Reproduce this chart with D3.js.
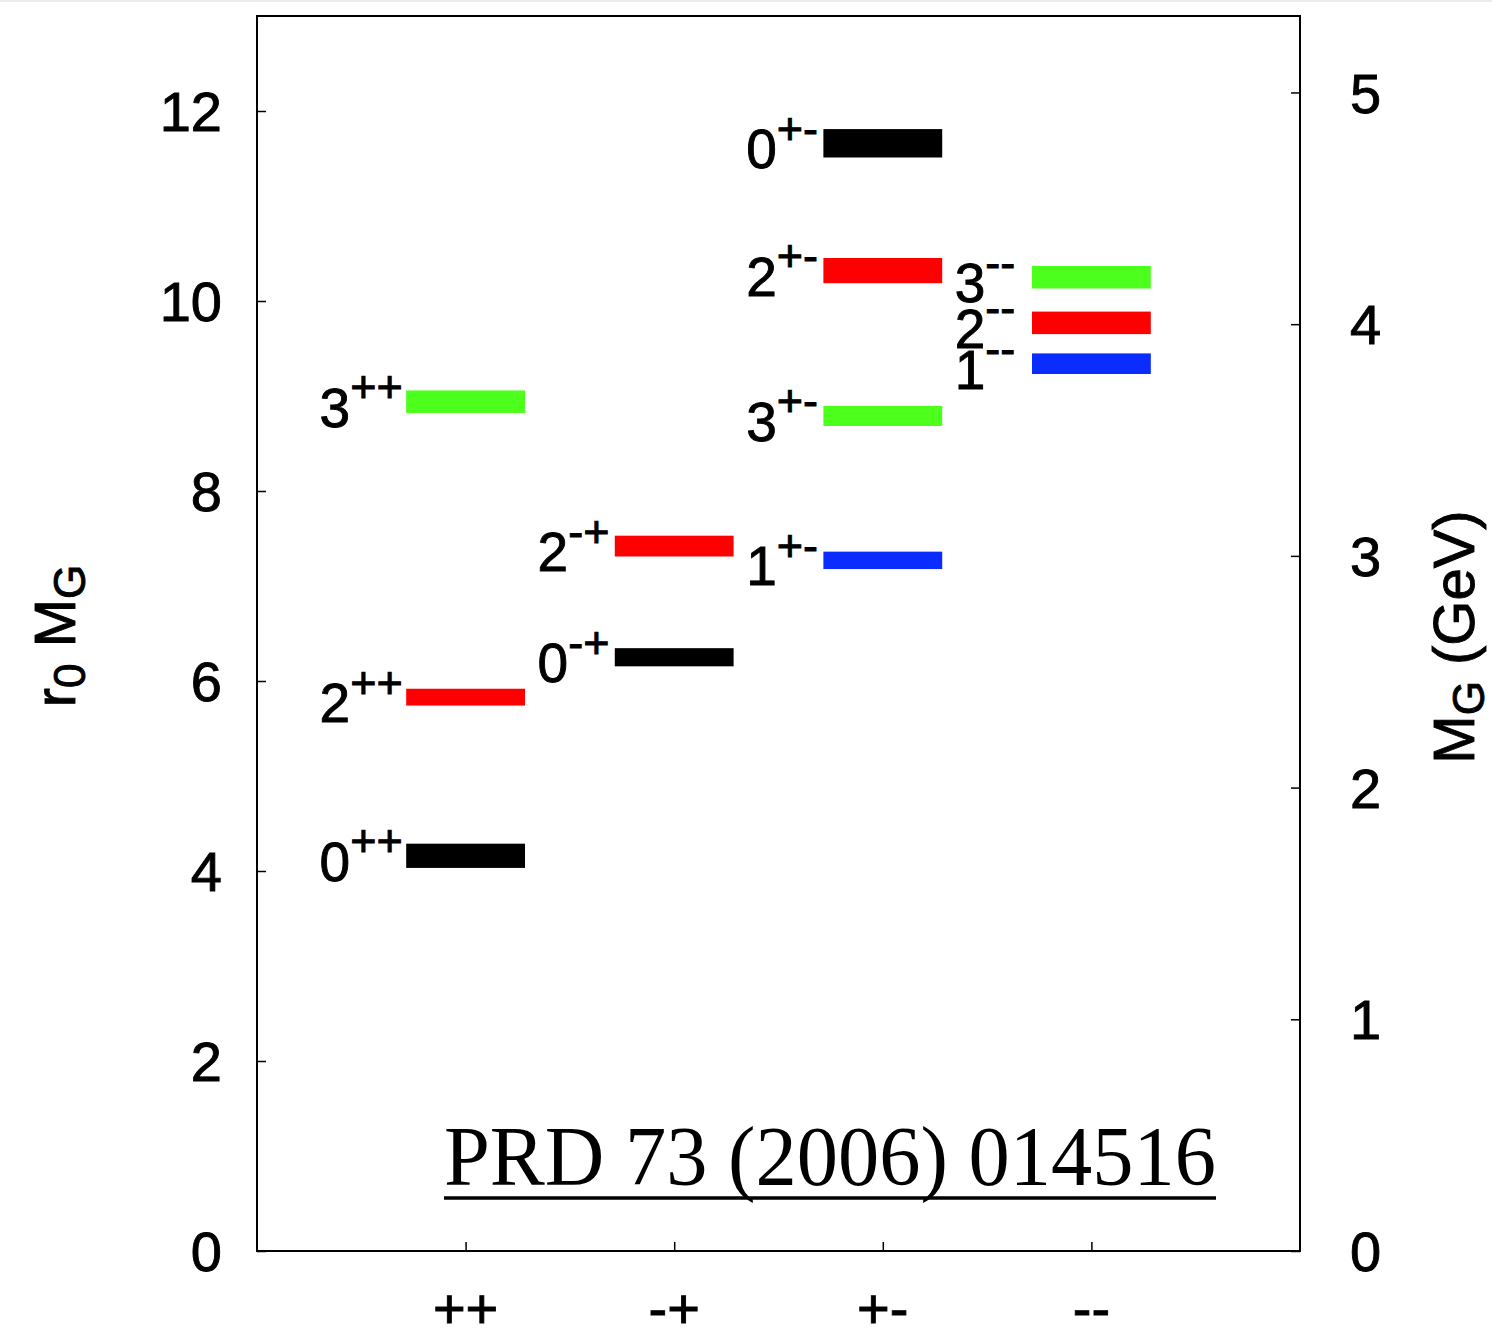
<!DOCTYPE html>
<html>
<head>
<meta charset="utf-8">
<script src="https://cdn.jsdelivr.net/npm/d3@7"></script>
<style>
  html, body { margin: 0; padding: 0; background: #fff; }
  svg { display: block; }
  text.sans { font-family: "Liberation Sans", Arial, Helvetica, sans-serif; fill: #000; stroke: #000; stroke-width: 0.9px; }
  text.serif { font-family: "Liberation Serif", "Times New Roman", serif; fill: #000; }
</style>
</head>
<body>
<svg id="chart" width="1492" height="1332"></svg>
<script>
// Glueball spectrum of SU(3) Yang-Mills theory, masses in units of r0
const pcCategories = ["++", "-+", "+-", "--"];

const stateSpin   = [0, 2, 3, 0, 2, 0, 2, 3, 1, 3, 2, 1];
const statePC     = ["++", "++", "++", "-+", "-+", "+-", "+-", "+-", "+-", "--", "--", "--"];
const stateMassR0 = [4.16, 5.83, 8.94, 6.25, 7.42, 11.66, 10.32, 8.79, 7.27, 10.25, 9.77, 9.34];
const stateErrR0  = [0.117, 0.078, 0.108, 0.085, 0.099, 0.139, 0.122, 0.095, 0.081, 0.108, 0.108, 0.098];

const leftTicks  = [0, 2, 4, 6, 8, 10, 12];
const rightTicks = [0, 1, 2, 3, 4, 5];
const r0Inverse  = 0.41;           // GeV
const citation   = "PRD 73 (2006) 014516";

const W = 1492, H = 1332;
const plot = { left: 257, right: 1300, top: 16, bottom: 1251 };

const svg = d3.select("#chart");

// faint strip along the very top edge
svg.append("rect").attr("x", 0).attr("y", 0).attr("width", W).attr("height", 2).attr("fill", "#ececec");

const x  = d3.scaleLinear().domain([0, pcCategories.length + 1]).range([plot.left, plot.right]);
const yL = d3.scaleLinear().domain([0, 13]).range([plot.bottom, plot.top]);
const yR = d3.scaleLinear().domain([0, 13 * r0Inverse]).range([plot.bottom, plot.top]);
const colorBySpin = d3.scaleOrdinal().domain([0, 1, 2, 3]).range(["#000000", "#0a2cff", "#ff0000", "#4cff1c"]);
const catPos = pc => x(pcCategories.indexOf(pc) + 1);

const tickFont = 56;

// left axis (r0 M_G)
const leftAxis = svg.append("g").attr("transform", `translate(${plot.left},0)`)
  .call(d3.axisRight(yL).tickValues(leftTicks).tickSize(9).tickFormat(""));
leftAxis.select(".domain").remove();
leftAxis.selectAll("line").attr("stroke", "#000").attr("stroke-width", 1.5);
svg.append("g").selectAll("text").data(leftTicks).join("text").attr("class", "sans")
  .attr("x", 222).attr("y", d => yL(d)).attr("dy", "0.36em")
  .attr("text-anchor", "end").attr("font-size", tickFont).text(d => d);

// right axis (GeV)
const rightAxis = svg.append("g").attr("transform", `translate(${plot.right},0)`)
  .call(d3.axisLeft(yR).tickValues(rightTicks).tickSize(9).tickFormat(""));
rightAxis.select(".domain").remove();
rightAxis.selectAll("line").attr("stroke", "#000").attr("stroke-width", 1.5);
svg.append("g").selectAll("text").data(rightTicks).join("text").attr("class", "sans")
  .attr("x", 1350).attr("y", d => yR(d)).attr("dy", "0.36em")
  .attr("text-anchor", "start").attr("font-size", tickFont).text(d => d);

// bottom axis (PC channels)
const bottomAxis = svg.append("g").attr("transform", `translate(0,${plot.bottom})`)
  .call(d3.axisTop(x).tickValues(d3.range(1, pcCategories.length + 1)).tickSize(9).tickFormat(""));
bottomAxis.select(".domain").remove();
bottomAxis.selectAll("line").attr("stroke", "#000").attr("stroke-width", 1.5);
svg.append("g").selectAll("text").data(pcCategories).join("text").attr("class", "sans")
  .attr("x", d => catPos(d)).attr("y", 1328)
  .attr("text-anchor", "middle").attr("font-size", tickFont).text(d => d);

// frame
svg.append("rect")
  .attr("x", plot.left).attr("y", plot.top)
  .attr("width", plot.right - plot.left).attr("height", plot.bottom - plot.top)
  .attr("fill", "none").attr("stroke", "#000").attr("stroke-width", 2);

// mass levels: band height = one sigma either side
const halfWidth = 0.28;
const levels = stateMassR0.map((m, i) => ({ m, e: stateErrR0[i], J: stateSpin[i], pc: statePC[i] }));

svg.append("g").selectAll("rect").data(levels).join("rect")
  .attr("x", d => x(pcCategories.indexOf(d.pc) + 1 - halfWidth))
  .attr("width", d => x(halfWidth * 2) - x(0))
  .attr("y", d => yL(d.m + d.e))
  .attr("height", d => yL(d.m - d.e) - yL(d.m + d.e))
  .attr("fill", d => colorBySpin(d.J))
  .attr("stroke", d => colorBySpin(d.J))
  .attr("stroke-width", 2);

// state labels J^{PC}, placed just left of each level
const labels = svg.append("g").selectAll("text").data(levels).join("text").attr("class", "sans")
  .attr("x", d => x(pcCategories.indexOf(d.pc) + 1 - (d.pc === "++" ? 0.70 : 0.655)))
  .attr("y", d => yL(d.m) + 25)
  .attr("font-size", 55);
labels.append("tspan").text(d => d.J);
labels.append("tspan").attr("font-size", 45).attr("dy", -24.5).text(d => d.pc);

// axis titles
const leftTitle = svg.append("text").attr("class", "sans")
  .attr("transform", "translate(75,636) rotate(-90)")
  .attr("text-anchor", "middle").attr("font-size", 58);
leftTitle.append("tspan").text("r");
leftTitle.append("tspan").attr("font-size", 44).attr("dy", 10).text("0");
leftTitle.append("tspan").attr("dy", -10).text(" M");
leftTitle.append("tspan").attr("font-size", 44).attr("dy", 10).text("G");

const rightTitle = svg.append("text").attr("class", "sans")
  .attr("transform", "translate(1474,637) rotate(-90)")
  .attr("text-anchor", "middle").attr("font-size", 58);
rightTitle.append("tspan").text("M");
rightTitle.append("tspan").attr("font-size", 44).attr("dy", 10).text("G");
rightTitle.append("tspan").attr("dy", -10).text(" (GeV)");

// citation, underlined, in a condensed serif
const citeX0 = 444, citeX1 = 1216, citeBase = 1185;
svg.append("text").attr("class", "serif")
  .attr("x", citeX0).attr("y", citeBase)
  .attr("font-size", 84)
  .attr("textLength", citeX1 - citeX0).attr("lengthAdjust", "spacingAndGlyphs")
  .text(citation);
svg.append("line")
  .attr("x1", citeX0).attr("x2", citeX1).attr("y1", 1198).attr("y2", 1198)
  .attr("stroke", "#000").attr("stroke-width", 3.5);
</script>
</body>
</html>
